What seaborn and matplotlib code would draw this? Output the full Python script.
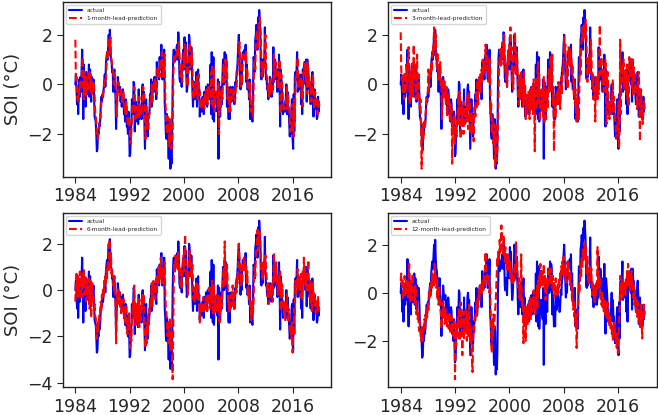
import matplotlib
matplotlib.use("Agg")
import matplotlib.pyplot as plt
import numpy as np
import pandas as pd
import seaborn as sns

START_YEAR = 1984
XTICKS = [1984, 1992, 2000, 2008, 2016]

# monthly SOI, Jan 1984 .. Dec 2019 (one row per year)
actual = [
    0.0, 0.4, -0.2, -0.8, -0.3, -1.2, -0.3, 0.2, -0.5, 0.3, -0.3, 0.6,
    1.4, 0.2, -1.4, 0.8, -0.6, 0.1, -0.9, 0.5, -0.2, -0.4, -0.3, 0.2,
    0.8, -0.5, 0.6, -0.2, -0.7, 0.3, -0.3, -0.1, 0.2, -0.4, -1.3, -1.4,
    -1.5, -2.0, -2.7, -2.6, -1.9, -2.0, -1.6, -1.7, -1.4, -0.8, -0.5, -0.7,
    -0.4, -0.5, -0.2, 0.1, 0.4, -0.1, 0.8, 1.1, 1.3, 1.0, 1.5, 2.0,
    1.2, 2.2, 1.4, 1.0, 0.9, 0.5, 0.6, -0.3, 0.4, 0.6, -0.2, -0.5,
    -1.8, -0.9, -0.5, 0.3, 0.0, -0.2, -0.3, -0.1, -0.7, -0.3, -0.9, -0.6,
    -0.2, -0.5, -1.2, -1.1, -1.5, -0.6, -0.8, -1.7, -1.6, -2.0, -1.1, -1.7,
    -2.9, -2.8, -2.0, -1.6, -0.6, -1.2, -0.9, 0.1, 0.0, -1.9, -0.9, -0.7,
    -1.3, -1.5, -0.9, -1.6, -0.2, -1.4, -1.2, -1.3, -0.9, -1.4, -0.2, 0.0,
    -0.5, -0.3, -1.5, -2.6, -1.5, -0.6, -1.5, -1.6, -2.1, -1.2, -1.3, -1.1,
    -0.4, -0.7, 0.2, -0.9, -0.6, 0.0, 0.1, 0.0, 0.3, -0.3, 0.0, -0.6,
    0.9, 0.4, 0.6, 0.6, 0.2, 1.1, 0.6, 0.8, 1.6, 0.6, 0.2, 1.0,
    0.5, 1.4, -0.8, -1.2, -2.0, -2.2, -1.2, -2.0, -1.9, -3.0, -1.4, -1.6,
    -3.4, -2.8, -3.2, -2.4, 0.0, 1.1, 1.4, 0.9, 1.1, 1.3, 1.0, 1.5,
    1.6, 1.0, 2.1, 1.5, 0.3, 0.1, 0.6, 0.3, -0.1, 0.9, 1.2, 1.4,
    0.6, 1.9, 1.2, 1.7, 0.5, -0.3, -0.1, 0.5, 1.0, 2.0, 1.8, 0.6,
    0.8, 1.5, 0.8, -0.3, -0.9, 0.1, -0.3, -0.6, 0.1, 0.0, 0.5, -0.9,
    0.1, 0.6, -0.5, -0.2, -1.3, -0.7, -0.8, -1.1, -0.6, -0.5, -0.6, -1.2,
    -0.3, -0.8, -0.5, -0.1, -0.6, -0.9, 0.0, -0.1, -0.3, -0.4, -0.6, 0.8,
    -1.2, 1.3, 0.2, -1.4, 1.1, -1.5, -0.7, -0.5, -0.3, -0.3, -0.7, -1.1,
    0.2, -3.0, 0.1, -0.7, -1.3, -0.2, -0.1, -0.8, 0.3, 1.0, 0.0, 0.0,
    1.3, 0.1, 1.2, 1.0, -0.9, -0.1, -0.7, -1.4, -0.6, -1.4, -0.1, -0.3,
    -0.7, -0.5, -0.1, -0.4, -0.3, -0.8, -0.5, 0.1, -0.1, 0.5, 0.6, 1.0,
    1.6, 2.0, 1.3, 0.5, -0.2, 0.2, 0.0, 1.0, 1.3, 1.2, 1.1, 1.4,
    1.0, 1.6, 0.1, 0.8, -0.2, -0.2, 0.1, -0.6, 0.2, -1.4, -0.7, -1.0,
    -1.2, -1.5, -0.4, 1.1, 1.0, 0.5, 1.8, 2.0, 2.4, 2.0, 1.4, 2.7,
    2.3, 3.0, 2.6, 2.1, 0.3, 0.2, 1.0, 0.3, 1.0, 0.7, 1.0, 2.3,
    0.8, 0.2, 0.3, -0.2, -0.1, -0.6, 0.0, -0.5, 0.3, 0.2, 0.0, -0.5,
    -0.1, -0.2, 1.5, 0.1, 0.6, 1.0, 0.7, 0.2, 0.3, -0.3, 0.6, 0.1,
    1.2, 0.1, -1.7, 0.6, 0.3, -0.1, -0.6, -1.2, -1.0, -0.9, -1.1, -0.7,
    -0.6, 0.0, -1.2, -0.3, -1.0, -1.0, -1.6, -2.1, -1.8, -2.0, -0.9, -0.6,
    -2.2, -2.6, -0.4, -1.9, 0.3, 0.5, 0.2, 0.6, 1.3, -0.3, -0.1, 0.2,
    0.2, -0.2, 0.4, -0.8, 0.1, -1.2, 0.6, 0.4, 0.7, 0.9, 0.9, 0.0,
    1.0, -0.7, 1.0, 0.5, 0.5, -0.2, 0.1, -0.5, -0.8, -0.3, 0.2, 0.5,
    -0.1, -1.3, -0.4, -0.2, -1.0, -0.7, -0.6, -1.4, -1.3, -0.5, -1.1, -0.8,
]

pred_1 = [
    1.8, 0.1, 0.3, -0.5, -0.6, -0.4, -0.7, 0.0, 0.1, -0.2, 0.1, 0.2,
    0.6, 1.1, -0.3, -0.6, 0.5, -0.3, 0.0, -0.5, 0.3, -0.2, -0.3, -0.1,
    0.4, 0.5, -0.2, 0.4, -0.3, -0.4, 0.1, -0.3, -0.1, 0.0, -0.5, -1.1,
    -1.3, -1.5, -1.9, -2.2, -2.2, -1.8, -1.8, -1.5, -1.5, -1.1, -0.7, -0.6,
    -0.6, -0.3, -0.3, 0.0, 0.1, 0.3, 0.2, 0.7, 1.2, 1.3, 1.1, 1.4,
    1.8, 1.3, 1.9, 1.2, 1.0, 0.8, 0.6, 0.5, 0.0, 0.3, 0.4, -0.2,
    -0.5, -1.3, -0.7, -0.3, 0.1, -0.1, -0.2, -0.2, -0.2, -0.5, -0.4, -0.8,
    -0.5, -0.3, -0.7, -1.1, -1.0, -1.2, -0.7, -1.0, -1.5, -1.6, -1.7, -1.3,
    -1.8, -2.3, -2.4, -1.8, -1.4, -0.8, -1.0, -0.7, -0.1, -0.3, -1.4, -1.0,
    -0.9, -1.2, -1.3, -1.0, -1.3, -0.5, -1.2, -1.1, -1.2, -1.0, -1.1, -0.3,
    -0.1, -0.4, -0.4, -1.3, -2.2, -1.4, -0.9, -1.4, -1.6, -1.8, -1.3, -1.2,
    -1.0, -0.5, -0.6, 0.0, -0.7, -0.5, -0.1, 0.1, 0.0, 0.2, -0.2, -0.1,
    -0.4, 0.7, 0.5, 0.6, 0.6, 0.3, 1.0, 0.6, 0.8, 1.3, 0.6, 0.3,
    0.8, 0.6, 1.2, -0.6, -1.1, -1.7, -2.0, -1.3, -1.8, -1.9, -2.5, -1.4,
    -1.5, -2.6, -2.6, -2.5, -1.8, 0.1, 0.9, 1.2, 1.0, 1.1, 1.2, 1.1,
    1.4, 1.5, 1.2, 1.8, 1.3, 0.5, 0.3, 0.6, 0.3, 0.1, 0.8, 1.1,
    1.3, 0.7, 1.6, 1.2, 1.4, 0.5, -0.1, 0.0, 0.5, 1.0, 1.7, 1.5,
    0.7, 0.9, 1.3, 0.7, -0.2, -0.6, 0.0, -0.3, -0.4, 0.1, 0.0, 0.3,
    -0.6, 0.0, 0.4, -0.4, -0.3, -1.0, -0.7, -0.8, -0.9, -0.6, -0.5, -0.6,
    -1.0, -0.4, -0.7, -0.5, -0.2, -0.6, -0.8, -0.1, -0.1, -0.3, -0.4, -0.5,
    0.5, -0.8, 0.8, 0.1, -1.0, 0.6, -1.1, -0.7, -0.5, -0.4, -0.3, -0.6,
    -0.9, 0.1, -2.0, -0.3, -0.6, -1.0, -0.3, -0.2, -0.6, 0.2, 0.8, 0.1,
    0.1, 1.0, 0.2, 1.0, 0.8, -0.6, -0.2, -0.6, -1.1, -0.7, -1.1, -0.2,
    -0.4, -0.6, -0.5, -0.2, -0.4, -0.4, -0.7, -0.5, 0.0, -0.1, 0.4, 0.6,
    0.9, 1.4, 1.7, 1.2, 0.5, -0.1, 0.2, 0.1, 0.9, 1.2, 1.1, 1.1,
    1.2, 0.9, 1.3, 0.2, 0.6, -0.1, -0.2, 0.0, -0.5, 0.1, -1.1, -0.7,
    -0.9, -1.1, -1.3, -0.3, 0.9, 0.9, 0.6, 1.6, 1.9, 2.2, 1.9, 1.5,
    2.5, 2.3, 2.7, 2.4, 1.8, 0.4, 0.3, 0.9, 0.4, 0.9, 0.7, 1.0,
    2.0, 0.8, 0.3, 0.3, -0.2, -0.2, -0.5, 0.0, -0.4, 0.2, 0.1, 0.0,
    -0.4, -0.1, -0.1, 1.2, 0.2, 0.6, 0.9, 0.6, 0.3, 0.2, -0.2, 0.5,
    0.2, 1.0, 0.1, -1.2, 0.4, 0.2, -0.1, -0.6, -1.1, -0.9, -0.9, -1.0,
    -0.7, -0.6, -0.1, -1.0, -0.4, -0.9, -1.0, -1.5, -1.9, -1.8, -1.9, -1.0,
    -0.8, -1.9, -2.1, -0.6, -1.5, 0.1, 0.4, 0.3, 0.6, 1.1, -0.1, -0.1,
    0.2, 0.2, -0.1, 0.3, -0.6, 0.0, -0.9, 0.5, 0.4, 0.7, 0.9, 0.8,
    0.1, 0.9, -0.4, 0.8, 0.5, 0.4, -0.1, 0.1, -0.4, -0.7, -0.3, 0.1,
    0.4, -0.1, -1.0, -0.4, -0.3, -0.8, -0.7, -0.6, -1.2, -1.2, -0.6, -0.9,
]

pred_3 = [
    2.1, 0.6, 0.2, 0.4, -0.3, 0.0, -0.6, 0.5, -0.4, 0.3, 0.8, -0.2,
    0.5, 1.0, 1.5, 0.3, -0.8, 0.6, -0.6, 0.4, 0.9, -0.1, -0.5, 1.6,
    0.2, 0.8, 0.1, -0.6, 0.3, 1.2, -0.5, -0.2, 0.4, -0.7, -1.0, -0.6,
    -1.7, -3.4, -2.4, -1.6, -2.2, -1.9, -1.5, -1.7, -1.2, -1.0, -0.6, -0.4,
    -0.3, 0.6, -0.2, 0.2, 0.6, 0.3, 0.9, 0.5, 1.3, 1.5, 1.2, 2.3,
    1.7, 1.4, 2.0, 1.0, 0.7, 1.3, 0.5, 0.8, 0.1, 0.4, 0.9, -0.1,
    0.2, -1.4, -0.6, -0.2, 0.2, -0.5, 0.1, -0.4, -0.8, -0.1, -1.3, -0.6,
    -0.7, -0.4, -1.0, -1.5, -0.8, -1.3, -1.0, -3.2, -1.5, -2.0, -1.6, -1.2,
    -2.4, -2.0, -1.7, -2.1, -1.2, -1.0, -0.4, -1.6, -0.3, -0.6, -2.2, -1.3,
    -0.8, -1.7, -1.1, -2.0, -0.7, -1.0, -1.6, -0.9, -1.5, -1.1, -0.5, -1.8,
    -0.3, -1.0, -0.7, -2.0, -1.8, -1.1, -1.9, -1.3, -1.6, -2.3, -1.0, -0.9,
    -1.3, -0.2, -0.9, -0.3, 0.2, -0.8, -0.1, 0.3, -0.2, 0.4, -0.4, 0.6,
    0.1, 1.0, 0.4, 0.9, 0.8, 0.5, 1.6, 0.9, 0.6, 1.2, 1.0, 0.1,
    0.9, 0.2, 1.0, -1.2, -0.8, -2.0, -1.4, -1.7, -2.4, -1.6, -2.3, -3.3,
    -2.0, -1.6, -3.1, -2.6, -1.4, -0.5, 0.8, 1.0, 1.4, 0.7, 1.5, 1.0,
    1.7, 1.4, 0.8, 2.0, 1.2, 0.6, 0.2, 0.9, -0.1, 0.5, 1.3, 0.8,
    1.6, 1.0, 2.3, 1.0, 1.5, 0.1, 0.4, -0.2, 0.8, 1.6, 2.1, 1.2,
    0.4, 1.3, 1.0, 0.2, -0.5, -0.8, 0.4, -0.6, -0.2, 0.5, -0.3, 0.2,
    -0.9, -0.3, 0.5, -0.8, 0.0, -1.4, -0.4, -1.2, -0.7, -0.9, -0.3, -1.0,
    -1.4, -0.2, -0.9, -1.0, -0.1, -0.7, -1.2, 0.2, -0.5, -2.7, -0.6, -0.2,
    0.3, -1.0, 0.6, 0.9, -0.8, 0.4, -1.5, -0.6, -1.0, -0.2, -0.6, -0.9,
    -1.3, 0.3, -1.6, -0.5, -0.9, -1.4, -0.2, -0.6, -1.0, 0.4, 0.6, -0.3,
    0.5, 1.1, -0.3, 0.8, 1.2, -0.8, -0.4, -2.7, -1.0, -0.6, -1.3, -0.4,
    -0.8, -0.3, -0.8, 0.1, -0.6, -0.2, -1.0, -0.3, 0.3, -0.4, 0.7, 0.4,
    1.0, 1.9, 1.3, 1.6, 0.8, 0.1, 0.6, -0.2, 1.1, 1.5, 0.8, 1.4,
    0.7, 1.3, 1.0, 0.4, 0.7, 0.3, -0.4, 0.2, -0.8, -0.2, -1.2, -1.5,
    -0.6, -1.3, -1.0, -1.4, 0.3, 1.2, 0.4, 1.5, 1.8, 2.3, 1.7, 1.9,
    2.1, 2.4, 1.8, 2.6, 2.2, 1.2, 0.1, 0.7, 0.6, 1.2, 0.4, 0.9,
    1.8, 1.4, 0.5, 0.0, 0.4, -0.6, -0.1, -0.4, -1.5, 0.3, -0.2, 0.2,
    -0.6, 0.2, -0.4, 0.7, 2.4, 0.4, 0.8, 1.1, 0.4, 0.0, 0.3, -0.3,
    0.6, 0.3, 1.0, -0.2, -1.6, 0.2, 0.5, -0.4, -0.9, -1.4, -0.7, -1.2,
    -0.9, -0.4, -0.7, 0.2, -1.2, -0.5, -1.1, -1.3, -1.6, -2.2, -1.7, -1.9,
    -1.2, -0.7, -2.6, -1.6, 1.8, -1.2, 0.3, 0.1, 0.8, 0.4, 1.0, -0.2,
    0.3, 0.1, 0.6, -0.4, 0.8, -0.6, 0.2, -0.9, 1.1, 0.3, 0.6, 1.1,
    0.5, -0.2, 1.0, -0.5, 0.7, 0.2, 0.4, -0.3, -0.1, -0.6, -1.0, 0.0,
    0.3, 0.5, -0.6, -2.3, -0.7, -0.2, -1.0, -0.8, -1.6, -1.1, -0.7, -1.0,
]

pred_6 = [
    -0.5, 0.5, 0.7, 0.1, -0.3, 0.6, -0.2, 0.3, 0.8, -0.4, 0.2, 0.5,
    -0.3, 0.7, 0.2, 0.9, -0.2, 0.3, 0.6, -0.5, 0.1, 0.4, -0.3, 0.2,
    0.5, -0.8, -0.1, 0.4, -1.2, 0.0, 0.3, -0.5, -0.3, -0.9, -0.6, -1.1,
    -1.2, -1.6, -2.1, -1.4, -1.8, -1.5, -1.1, -1.3, -0.8, -0.5, -0.9, -0.2,
    -0.4, 0.1, -0.3, 0.4, 0.2, 0.6, 0.3, 0.9, 0.5, 1.1, 1.3, 0.8,
    2.2, 1.5, 1.0, 1.6, 0.7, 0.9, 0.4, 0.2, 0.6, -0.1, 0.3, -0.6,
    -2.3, -0.7, -0.2, -0.6, 0.1, -0.4, -0.1, -0.8, -0.3, -1.0, -0.5, -0.7,
    -0.9, -0.4, -1.2, -0.8, -1.4, -1.1, -0.6, -1.5, -1.9, -1.3, -1.7, -1.0,
    -1.5, -2.5, -1.8, -2.2, -1.3, -0.9, -0.5, -1.2, 0.2, -0.7, -1.5, -1.1,
    -0.6, -1.4, -1.0, -1.2, -0.4, -1.6, -0.9, -0.7, -1.3, -0.4, -0.8, -0.2,
    -0.6, -0.2, -1.0, -1.8, -2.5, -1.6, -2.3, -1.4, -1.9, -1.0, -1.5, -0.8,
    -0.9, -0.3, -0.5, 0.3, -0.7, -0.2, 0.4, -0.1, 0.2, -0.4, 0.1, 0.5,
    -0.2, 0.6, 0.3, 1.0, 0.4, 0.8, 0.5, 1.4, 0.7, 0.3, 1.0, 0.6,
    0.8, 0.2, 1.2, -0.2, -0.8, -1.0, -1.5, -2.0, -1.4, -2.3, -1.8, -1.2,
    -2.6, -2.2, -1.9, -3.0, -3.85, -1.5, 0.4, 1.2, 0.8, 1.5, 1.0, 1.2,
    1.4, 0.9, 1.7, 1.1, 0.6, 1.0, 0.2, 0.5, 0.1, 0.7, 1.0, 1.5,
    0.8, 1.3, 2.4, 1.2, 0.9, 0.3, 0.6, -0.2, 0.7, 1.2, 1.7, 1.0,
    1.2, 0.5, 1.0, 1.1, 0.3, -0.4, 0.1, -0.5, 0.0, -0.3, 0.3, 0.0,
    -0.4, 0.2, -0.1, -0.6, -1.4, -0.6, -0.9, -0.5, -1.0, -0.8, -0.3, -0.7,
    -1.0, -0.5, -0.8, -0.4, -0.2, -0.9, -0.6, -0.3, 0.1, -0.5, -0.8, -0.4,
    0.1, -0.6, 0.4, -0.3, -1.1, 0.2, -0.8, -0.4, -1.0, -0.6, -0.2, -0.5,
    -0.8, -0.2, -0.6, -1.4, -0.5, -0.9, -0.3, -0.7, -0.1, 0.3, 0.9, 0.2,
    2.1, 0.4, 0.8, 0.3, 1.1, 0.5, -0.6, -0.3, -1.0, -0.5, -0.9, -0.2,
    -0.7, -0.3, 0.2, -0.5, -0.2, -0.9, -0.4, 0.0, 0.4, -0.1, 0.6, 0.3,
    1.0, 2.0, 1.4, 1.1, 0.6, 0.2, 0.7, 0.3, 1.2, 0.9, 1.4, 0.8,
    1.3, 0.7, 1.1, 0.3, 0.8, -0.3, 0.2, -0.4, 0.0, -0.8, -0.5, -1.3,
    -0.9, -0.4, -1.0, -0.6, 0.5, 1.0, 0.6, 1.4, 1.8, 2.0, 2.6, 1.7,
    2.3, 2.0, 2.5, 1.8, 1.4, 0.8, 1.1, 0.4, 1.2, 0.6, 1.3, 0.9,
    1.5, 1.0, 0.6, 0.2, -0.3, 0.3, -0.6, -0.2, 0.1, -0.4, 0.2, -0.1,
    0.3, -0.5, 0.6, 1.6, 0.4, 0.9, 0.5, 1.2, 0.2, 0.7, -0.2, 0.4,
    0.6, 0.0, 0.8, -0.9, 0.3, -0.3, 0.2, -0.8, -0.5, -1.1, -0.6, -1.3,
    -0.5, -0.9, -0.2, -0.7, -1.3, -0.8, -1.0, -1.7, -1.5, -1.9, -2.1, -1.4,
    -2.7, -1.5, -2.0, -0.8, -1.1, 0.4, -0.2, 0.5, 0.3, 0.9, 0.1, 0.6,
    0.0, 0.5, -0.3, 0.7, 0.2, -0.4, 0.8, 0.3, 1.4, 0.5, 1.0, 0.2,
    0.7, -0.1, 0.5, 0.9, 1.3, 0.1, -0.3, 0.4, -0.6, -0.2, -0.9, 0.3,
    0.2, -0.4, -0.1, -0.7, -0.3, -1.0, -0.5, -0.8, -0.6, -0.3, -0.9, -0.6,
]

pred_12 = [
    0.5, 0.8, 0.2, 0.6, -0.3, 0.4, 0.1, 0.7, -0.1, 0.3, 0.5, 0.0,
    0.3, -0.2, 0.6, 1.2, 0.2, -0.4, 0.5, 0.1, -0.3, 0.8, 0.4, -0.1,
    0.2, -0.5, 0.3, -0.2, -0.9, -0.6, -1.1, -0.8, -1.4, -1.6, -1.2, -1.7,
    -2.0, -1.8, -1.5, -2.0, -1.4, -1.6, -1.1, -1.5, -0.9, -1.2, -0.7, -1.0,
    -0.4, -0.8, 0.1, -0.2, 0.3, -0.1, 0.5, 0.2, 0.8, 0.4, 0.6, 0.3,
    1.2, 0.5, 0.8, 0.2, 0.6, -0.3, 0.1, -0.5, 0.3, -0.2, -0.6, -0.9,
    -1.5, -0.8, -1.1, -0.4, -1.0, -0.6, -1.3, -0.7, -1.2, -0.9, -1.4, -1.0,
    -1.1, -1.5, -0.8, -1.3, -1.7, -1.2, -1.0, -1.6, -1.3, -1.8, -1.4, -1.1,
    -3.6, -1.5, -2.2, -1.3, -1.8, -1.0, -1.4, -0.6, -2.0, -1.2, -0.4, -1.5,
    -1.0, -2.6, -1.3, -0.8, -1.9, -1.1, -1.6, -0.7, -1.2, -2.0, -0.9, -1.4,
    -1.8, -0.5, -1.2, -2.1, -1.5, -2.4, -2.8, -3.3, -1.9, -1.4, -1.7, -1.0,
    -1.2, -0.8, -0.4, -1.0, -0.2, -0.6, 0.1, -0.3, 0.3, 0.0, 0.4, -0.1,
    0.2, 0.5, 0.1, 0.7, 0.4, 0.9, 1.7, 1.0, 0.6, 0.8, 0.3, 0.5,
    0.7, 0.0, 0.3, -0.8, -1.6, -2.5, -1.2, -1.8, -0.9, -1.5, -1.1, -0.7,
    -0.4, 0.3, 0.9, 1.5, 1.2, 1.8, 1.4, 2.2, 1.6, 2.0, 2.8, 2.3,
    2.0, 1.6, 2.4, 1.8, 1.3, 1.9, 1.2, 1.5, 0.9, 1.6, 1.1, 1.4,
    0.9, 1.3, 0.6, 1.0, 0.4, 0.8, 0.3, 0.7, 1.0, 0.5, 1.2, 0.8,
    2.1, 0.9, 1.3, 0.5, 0.2, 0.6, -0.2, 0.3, -0.4, 1.6, 0.1, -0.6,
    -0.3, -2.1, -0.8, -1.2, -0.5, -2.0, -0.9, -0.6, -1.4, -0.7, -0.4, -1.0,
    -0.6, -0.2, -1.1, -0.4, -0.8, -0.3, -0.5, 0.1, -0.7, -0.2, -0.9, -0.4,
    -0.1, 0.3, -0.6, 0.5, 0.0, 0.7, 0.2, 1.2, 0.4, 0.9, 0.3, 0.8,
    0.5, 1.2, 0.2, 0.7, -0.3, 0.4, 0.0, 0.6, 0.2, 0.9, 1.1, 0.5,
    0.8, 0.3, 1.0, 0.6, 0.2, 0.7, 0.1, 0.4, -0.2, 0.3, 0.6, 0.0,
    0.2, -0.1, 0.4, 0.0, 0.6, 0.3, 0.9, 0.5, 1.1, 0.7, 1.3, 0.9,
    1.5, 0.8, 1.2, 0.6, 1.0, 0.4, 0.9, 1.3, 0.7, 1.1, 0.5, 0.8,
    0.3, 0.7, 0.1, -0.4, 0.2, -0.7, -0.3, -1.0, -0.6, -1.4, -0.9, -2.3,
    -1.5, -0.8, -0.2, 0.4, 0.0, 0.8, 1.2, 0.6, 1.5, 1.0, 1.8, 1.3,
    1.6, 2.1, 1.4, 1.9, 1.2, 0.8, 1.5, 0.5, 1.0, 0.3, 0.7, 1.1,
    0.6, 1.0, 0.2, 0.5, -0.1, 0.3, 0.0, -0.4, 0.2, -0.2, 0.4, 0.1,
    1.9, 0.5, 0.9, 0.2, 0.6, -0.3, 0.1, -0.5, 0.0, -0.6, -0.2, -0.8,
    -0.4, -0.9, -0.3, -0.6, -1.1, -0.7, -0.4, -1.2, -0.9, -1.4, -1.0, -1.5,
    -1.3, -1.7, -1.4, -2.0, -1.6, -1.2, -1.8, -1.5, -2.1, -1.9, -2.3, -1.7,
    -2.5, -2.0, -1.2, -0.8, 0.7, -0.3, 0.4, 0.1, 0.6, -0.2, 0.3, 0.0,
    0.4, -0.1, 0.6, 0.2, 0.9, 0.3, 1.2, 0.5, 0.8, 0.1, 0.7, 0.3,
    0.9, 0.2, 0.5, -0.2, 0.3, -0.5, 0.1, -0.4, -0.8, -0.3, -1.0, -0.6,
    -0.4, -1.2, -0.7, -1.5, -0.9, -0.5, -1.3, -1.9, -0.8, -1.1, -0.5, -0.9,
]

lead_labels = [
    "1-month-lead-prediction",
    "3-month-lead-prediction",
    "6-month-lead-prediction",
    "12-month-lead-prediction",
]


def main():
    sns.set_style("ticks")
    plt.rcParams["font.family"] = ["DejaVu Sans"]

    years = START_YEAR + np.arange(len(actual)) / 12
    df = pd.DataFrame({"year": years, "actual": actual})

    fig, axes = plt.subplots(2, 2, figsize=(6.58, 4.15), dpi=100)
    fig.subplots_adjust(left=0.096, right=0.998, top=0.995, bottom=0.067,
                        wspace=0.213, hspace=0.207)

    preds = [pred_1, pred_3, pred_6, pred_12]
    for ax, pred, label in zip(axes.flat, preds, lead_labels):
        df["pred"] = pred
        sns.lineplot(data=df, x="year", y="actual", ax=ax, color="blue",
                     linewidth=1.5, label="actual")
        sns.lineplot(data=df, x="year", y="pred", ax=ax, color="red",
                     linewidth=1.5, linestyle="--", label=label)

        ax.set_xticks(XTICKS, labels=[str(t) for t in XTICKS])
        ax.yaxis.set_major_locator(matplotlib.ticker.MultipleLocator(2))
        ax.tick_params(labelsize=12.5, length=4, width=0.8)
        ax.set_xlabel("")
        ax.set_ylabel("")
        for spine in ax.spines.values():
            spine.set_color("#222222")
            spine.set_linewidth(1.0)
        ax.legend(loc="upper left", fontsize=4.2, frameon=True,
                  handlelength=2.2, borderpad=0.5, labelspacing=0.5)

    for ax in axes[:, 0]:
        ax.set_ylabel("SOI (°C)", fontsize=13)

    fig.savefig("out.png", dpi=100)


if __name__ == '__main__':
    main()
